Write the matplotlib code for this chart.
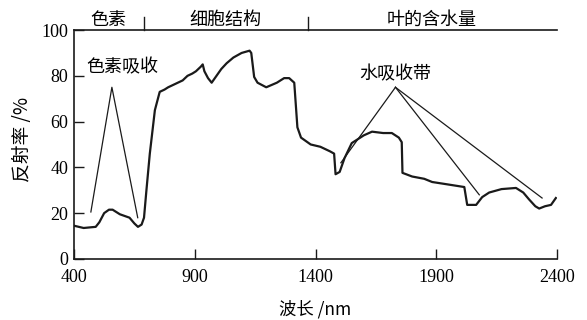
import matplotlib
matplotlib.use('Agg')
import matplotlib.pyplot as plt

plt.rcParams['font.family'] = ['Noto Sans CJK SC', 'DejaVu Sans']

# Vegetation reflectance spectrum
wavelength = [400, 440, 490, 505, 525, 545, 560, 590, 630, 650, 665, 680, 690,
              700, 714, 735, 755, 775, 790, 810, 830, 850, 870, 890, 905, 915,
              925, 933, 940, 955, 970, 990, 1010, 1032, 1060, 1094, 1127, 1134,
              1146, 1160, 1196, 1240, 1270, 1291, 1312, 1325, 1340, 1380, 1420,
              1460, 1477, 1483, 1500, 1520, 1550, 1600, 1634, 1680, 1716, 1745,
              1757, 1760, 1800, 1850, 1883, 1950, 2016, 2028, 2065, 2090, 2119,
              2170, 2230, 2260, 2284, 2310, 2326, 2350, 2375, 2395]
reflectance = [14.5, 13.5, 14, 16, 20, 21.5, 21.5, 19.5, 18, 15.5, 14, 15, 18,
               30, 46, 65, 73, 74, 75, 76, 77, 78, 80, 81, 82, 83,
               84, 85, 82, 79, 77, 80, 83, 85.5, 88, 90, 91, 90,
               79.5, 77, 75, 77, 79, 79, 77, 57.5, 53, 50, 49,
               47, 46, 37, 38, 44, 50.6, 54, 55.6, 55, 55, 53,
               51, 37.6, 36, 35, 33.6, 32.5, 31.4, 23.6, 23.6, 27, 29,
               30.5, 31, 29, 26, 23, 22, 23, 23.6, 26.6]

# pointer lines
pigment_ptr_x = [470, 557, 664]
pigment_ptr_y = [20.5, 75, 18]
water_apex = (1731, 75)
water_targets_x = [1505, 2078, 2338]
water_targets_y = [42, 28, 26.6]

# region headers above the plot
region_names = ['色素', '细胞结构', '叶的含水量']
region_centers = [544, 1027, 1880]
region_dividers = [689, 1367]

x_ticks = [400, 900, 1400, 1900, 2400]
y_ticks = [0, 20, 40, 60, 80, 100]

fig = plt.figure(figsize=(5.87, 3.2), dpi=100)
ax = fig.add_axes([0.126, 0.191, 0.823, 0.715])

ax.plot(wavelength, reflectance, color='#1a1a1a', linewidth=1.6)
ax.plot(pigment_ptr_x, pigment_ptr_y, color='#1a1a1a', linewidth=0.9)
for tx, ty in zip(water_targets_x, water_targets_y):
    ax.plot([water_apex[0], tx], [water_apex[1], ty], color='#1a1a1a', linewidth=0.9)

ax.text(452, 83.5, '色素吸收', fontsize=13, ha='left', va='center')
ax.text(1729, 80.5, '水吸收带', fontsize=13, ha='center', va='center')

for name, cx in zip(region_names, region_centers):
    ax.text(cx, 104.6, name, fontsize=13, ha='center', va='center')
for dx in region_dividers:
    ax.plot([dx, dx], [100, 105.5], color='#1a1a1a', linewidth=1.0, clip_on=False)

ax.set_xlim(400, 2400)
ax.set_ylim(0, 100)
ax.set_xticks(x_ticks)
ax.set_yticks(y_ticks)
ax.tick_params(direction='in', length=7, width=1, color='#1a1a1a')
ax.tick_params(axis='x', pad=7)
ax.tick_params(axis='y', pad=4)
for lab in ax.get_xticklabels() + ax.get_yticklabels():
    lab.set_fontfamily('Liberation Serif')
    lab.set_fontsize(13)

ax.spines['right'].set_visible(False)
for s in ['left', 'bottom', 'top']:
    ax.spines[s].set_linewidth(1.2)
    ax.spines[s].set_color('#1a1a1a')

ax.set_xlabel('波长 /nm', fontsize=12.5)
ax.xaxis.set_label_coords(0.50, -0.18)
ax.set_ylabel('反射率 /%', fontsize=13.5)
ax.yaxis.set_label_coords(-0.085, 0.52)

fig.savefig('out.png', dpi=100)
